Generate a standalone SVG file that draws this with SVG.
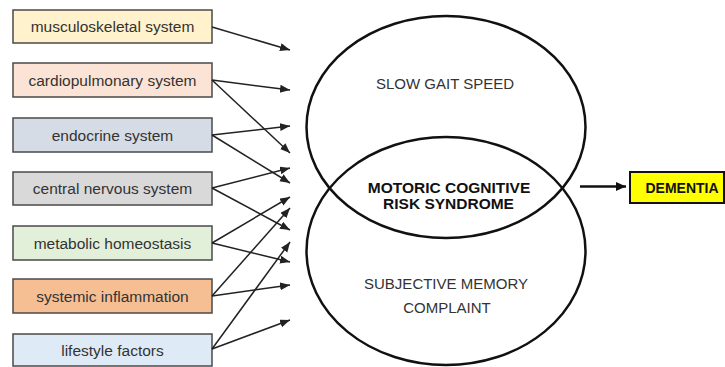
<svg xmlns="http://www.w3.org/2000/svg" width="725" height="367" viewBox="0 0 725 367">
  <style>
    .box { stroke: #4a4a4a; stroke-width: 1.5; }
    .lbl { font-family: "Liberation Sans", Arial, sans-serif; font-size: 15.5px; fill: #333; text-anchor: middle; }
    .ring { fill: none; stroke: #111; stroke-width: 2.5; }
    .cap { font-family: "Liberation Sans", Arial, sans-serif; font-size: 15px; fill: #333; text-anchor: middle; }
    .mcr { font-family: "Liberation Sans", Arial, sans-serif; font-size: 15.5px; font-weight: bold; fill: #111; text-anchor: middle; }
    .link { stroke: #222; stroke-width: 1.5; fill: none; marker-end: url(#tip); }
  </style>
  <defs>
    <marker id="tip" markerUnits="userSpaceOnUse" markerWidth="12" markerHeight="10" refX="10" refY="4" orient="auto">
      <path d="M0,0 L10,4 L0,8 Z" fill="#222"/>
    </marker>
    <marker id="tipBig" markerUnits="userSpaceOnUse" markerWidth="12" markerHeight="10" refX="10" refY="4.5" orient="auto">
      <path d="M0,0 L10,4.5 L0,9 Z" fill="#111"/>
    </marker>
  </defs>
  <rect width="725" height="367" fill="#ffffff"/>

  <!-- factor boxes -->
  <g id="musculoskeletal">
    <rect class="box" x="13" y="10" width="199" height="33" fill="#fff2cc"/>
    <text class="lbl" x="112.5" y="32">musculoskeletal system</text>
  </g>
  <g id="cardiopulmonary">
    <rect class="box" x="13" y="63" width="199" height="34" fill="#fbe4d5"/>
    <text class="lbl" x="112.5" y="85.5">cardiopulmonary system</text>
  </g>
  <g id="endocrine">
    <rect class="box" x="13" y="118" width="199" height="34" fill="#d6dce5"/>
    <text class="lbl" x="112.5" y="140.5">endocrine system</text>
  </g>
  <g id="central-nervous">
    <rect class="box" x="13" y="172" width="199" height="33" fill="#d9d9d9"/>
    <text class="lbl" x="112.5" y="194">central nervous system</text>
  </g>
  <g id="metabolic">
    <rect class="box" x="13" y="226" width="199" height="34" fill="#e2f0d9"/>
    <text class="lbl" x="112.5" y="248.5">metabolic homeostasis</text>
  </g>
  <g id="inflammation">
    <rect class="box" x="13" y="279" width="199" height="34" fill="#f6bf93"/>
    <text class="lbl" x="112.5" y="301.5">systemic inflammation</text>
  </g>
  <g id="lifestyle">
    <rect class="box" x="13" y="334" width="199" height="32" fill="#deebf7"/>
    <text class="lbl" x="112.5" y="355.5">lifestyle factors</text>
  </g>

  <!-- overlapping domains -->
  <g id="gait">
    <ellipse class="ring" cx="446" cy="127" rx="139.5" ry="111"/>
    <text class="cap" x="445" y="88.5">SLOW GAIT SPEED</text>
  </g>
  <g id="memory">
    <ellipse class="ring" cx="446" cy="251" rx="139.5" ry="114"/>
    <text class="cap" x="446" y="288.5">SUBJECTIVE MEMORY</text>
    <text class="cap" x="447" y="312.5">COMPLAINT</text>
  </g>
  <g id="mcr">
    <text class="mcr" x="449" y="192.5">MOTORIC COGNITIVE</text>
    <text class="mcr" x="448.5" y="208.5">RISK SYNDROME</text>
  </g>

  <g id="dementia">
    <rect x="630" y="172" width="94" height="31" fill="#ffff00" stroke="#111" stroke-width="2"/>
    <text class="mcr" x="682" y="192.5" style="font-size:14px">DEMENTIA</text>
  </g>

  <!-- connectors -->
  <g id="connectors">
    <line class="link" x1="212" y1="27" x2="290" y2="50"/>
    <line class="link" x1="212" y1="80" x2="290" y2="90"/>
    <line class="link" x1="212" y1="80" x2="290" y2="153"/>
    <line class="link" x1="212" y1="135" x2="290" y2="126"/>
    <line class="link" x1="212" y1="135" x2="290" y2="183"/>
    <line class="link" x1="212" y1="188" x2="290" y2="168"/>
    <line class="link" x1="212" y1="188" x2="290" y2="230"/>
    <line class="link" x1="212" y1="243" x2="290" y2="197"/>
    <line class="link" x1="212" y1="243" x2="290" y2="262"/>
    <line class="link" x1="212" y1="296" x2="290" y2="208"/>
    <line class="link" x1="212" y1="296" x2="290" y2="285"/>
    <line class="link" x1="212" y1="349" x2="290" y2="242"/>
    <line class="link" x1="212" y1="349" x2="290" y2="320"/>
    <line x1="580" y1="186.5" x2="626" y2="186.5" stroke="#111" stroke-width="2.5" marker-end="url(#tipBig)"/>
  </g>
</svg>
